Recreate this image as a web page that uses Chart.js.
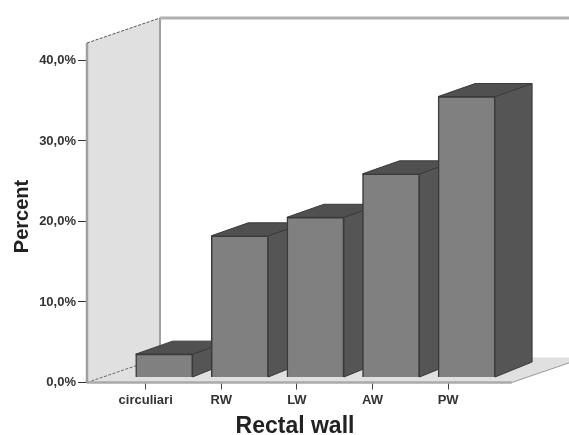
<!DOCTYPE html>
<html>
<head>
<meta charset="utf-8">
<title>Rectal wall</title>
<script src="https://cdn.jsdelivr.net/npm/chart.js@4"></script>
<style>
  html, body { margin: 0; padding: 0; background: #fff; }
  canvas { display: block; filter: blur(0.7px); }
</style>
</head>
<body>
<canvas id="wallChart" width="569" height="435"></canvas>
<script>
const categories = ['circuliari', 'RW', 'LW', 'AW', 'PW'];
const percentValues = [2.9, 17.6, 19.9, 25.3, 34.9];
const yTickValues = [0, 10, 20, 30, 40];

// Depth of the fake 3D box and of each bar, in pixels
const WALL_DX = 73, WALL_DY = 25;
const BAR_DX = 37, BAR_DY = 13;
// Bars stand a little behind the plane the axes are on
const BAR_SHIFT_X = 18.5, BAR_SHIFT_Y = 5;

function poly(ctx, pts, fill, stroke, width, dash) {
    ctx.beginPath();
    pts.forEach(function(p, i) {
        if (i === 0) ctx.moveTo(p[0], p[1]); else ctx.lineTo(p[0], p[1]);
    });
    if (fill) {
        ctx.closePath();
        ctx.fillStyle = fill;
        ctx.fill();
    }
    if (stroke) {
        ctx.strokeStyle = stroke;
        ctx.lineWidth = width || 1;
        ctx.setLineDash(dash || []);
        ctx.stroke();
        ctx.setLineDash([]);
    }
}

const box3d = {
    id: 'box3d',
    beforeDatasetsDraw: function(chart) {
        const ctx = chart.ctx;
        const left = chart.chartArea.left;
        const yScale = chart.scales.y;
        const x0 = yScale.getPixelForValue(0);
        const top = yScale.getPixelForValue(40) - 17.5;
        const right = 511.7;

        ctx.save();
        // floor
        poly(ctx, [[left, x0], [right, x0], [right + WALL_DX, x0 - WALL_DY], [left + WALL_DX, x0 - WALL_DY]], '#e0e0e0');
        // left wall
        poly(ctx, [[left, x0], [left, top], [left + WALL_DX, top - WALL_DY], [left + WALL_DX, x0 - WALL_DY]], '#e0e0e0');
        // wall edges
        poly(ctx, [[left, x0], [left, top]], null, '#a0a0a0', 2.5);
        poly(ctx, [[left + WALL_DX, x0 - WALL_DY], [left + WALL_DX, top - WALL_DY]], null, '#a0a0a0', 2);
        poly(ctx, [[left + WALL_DX, top - WALL_DY], [chart.width, top - WALL_DY]], null, '#b0b0b0', 3);
        poly(ctx, [[left, top], [left + WALL_DX, top - WALL_DY]], null, '#555', 1, [3, 1.5]);
        poly(ctx, [[left, x0], [left + WALL_DX, x0 - WALL_DY]], null, '#666', 1, [3, 1.5]);
        poly(ctx, [[right, x0], [right + WALL_DX, x0 - WALL_DY]], null, '#999', 1);
        poly(ctx, [[left, x0], [right, x0]], null, '#aaaaaa', 2.5);

        // side and top faces of the bars
        chart.getDatasetMeta(0).data.forEach(function(bar) {
            const p = bar.getProps(['x', 'y', 'base', 'width'], true);
            const x1 = p.x - p.width / 2 + BAR_SHIFT_X;
            const x2 = p.x + p.width / 2 + BAR_SHIFT_X;
            const yTop = p.y - BAR_SHIFT_Y;
            const yBase = p.base - BAR_SHIFT_Y;
            poly(ctx, [[x2, yTop], [x2 + BAR_DX, yTop - BAR_DY], [x2 + BAR_DX, yBase - BAR_DY - 2], [x2, yBase]], '#555555', '#3a3a3a', 1);
            poly(ctx, [[x1, yTop], [x1 + BAR_DX, yTop - BAR_DY], [x2 + BAR_DX, yTop - BAR_DY], [x2, yTop]], '#505050', '#3a3a3a', 1);
        });

        // front faces are shifted the same way
        ctx.restore();
        ctx.save();
        ctx.translate(BAR_SHIFT_X, -BAR_SHIFT_Y);
    },
    afterDatasetsDraw: function(chart) {
        chart.ctx.restore();
    }
};

new Chart(document.getElementById('wallChart').getContext('2d'), {
    type: 'bar',
    data: {
        datasets: [{
            data: percentValues.map(function(v, i) { return { x: i, y: v }; }),
            backgroundColor: '#808080',
            borderColor: '#3a3a3a',
            borderWidth: 1.5,
            barThickness: 57,
            clip: false
        }]
    },
    plugins: [box3d],
    options: {
        responsive: false,
        animation: false,
        layout: { padding: { left: 10, right: 66, top: 50.5, bottom: 0 } },
        plugins: {
            legend: { display: false },
            tooltip: { enabled: false }
        },
        scales: {
            x: {
                type: 'linear',
                offset: false,
                min: -0.776,
                max: 4.726,
                afterFit: function(scale) { scale.height = 52.5; },
                afterBuildTicks: function(scale) {
                    scale.ticks = categories.map(function(c, i) { return { value: i }; });
                },
                grid: { offset: false, drawOnChartArea: false, tickLength: 7, color: '#444', tickWidth: 1 },
                border: { display: false },
                ticks: {
                    autoSkip: false,
                    maxRotation: 0,
                    padding: 3,
                    color: '#333',
                    font: { family: 'Liberation Sans', size: 13, weight: 'bold' },
                    callback: function(value) { return categories[value]; }
                },
                title: {
                    display: true,
                    text: 'Rectal wall',
                    color: '#222',
                    padding: { top: 6, bottom: -5 },
                    font: { family: 'Liberation Sans', size: 23, weight: 'bold' }
                }
            },
            y: {
                min: 0,
                max: 41.24,
                afterFit: function(scale) { scale.width = 77; },
                afterBuildTicks: function(scale) {
                    scale.ticks = yTickValues.map(function(v) { return { value: v }; });
                },
                grid: { drawOnChartArea: false, tickLength: 9, color: '#333', tickWidth: 1 },
                border: { display: false },
                ticks: {
                    padding: 2,
                    color: '#333',
                    font: { family: 'Liberation Sans', size: 13, weight: 'bold' },
                    callback: function(value) { return value.toFixed(1).replace('.', ',') + '%'; }
                },
                title: {
                    display: true,
                    text: 'Percent',
                    color: '#222',
                    padding: 0,
                    font: { family: 'Liberation Sans', size: 20, weight: 'bold' }
                }
            }
        }
    }
});
</script>
</body>
</html>
